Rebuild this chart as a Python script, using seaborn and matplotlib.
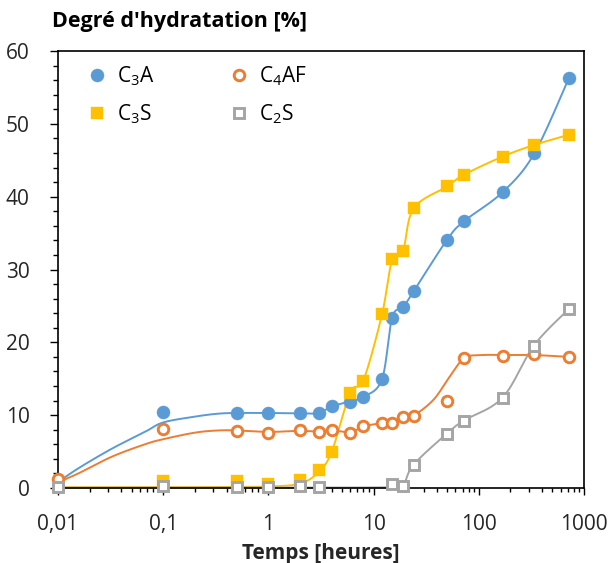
import numpy as np
import matplotlib
matplotlib.use('Agg')
import matplotlib.pyplot as plt
from matplotlib.ticker import FixedLocator, FixedFormatter, LogLocator, NullFormatter, MultipleLocator
from matplotlib.lines import Line2D
import seaborn as sns

# ---------------- data ----------------
# measured points
t_c3a = [0.1, 0.5, 1, 2, 3, 4, 6, 8, 12, 15, 19, 24, 50, 72, 168, 336, 720]
v_c3a = [10.4, 10.25, 10.25, 10.25, 10.3, 11.2, 11.85, 12.5, 14.9, 23.4, 24.8, 27.0, 34.1, 36.6, 40.6, 45.95, 56.35]

t_c4af = [0.01, 0.1, 0.5, 1, 2, 3, 4, 6, 8, 12, 15, 19, 24, 50, 72, 168, 336, 720]
v_c4af = [1.2, 8.1, 7.87, 7.6, 7.9, 7.7, 8.0, 7.6, 8.5, 8.9, 8.9, 9.8, 9.9, 12.0, 17.8, 18.1, 18.35, 17.95]

t_c3s = [0.1, 0.5, 1, 2, 3, 4, 6, 8, 12, 15, 19, 24, 50, 72, 168, 336, 720]
v_c3s = [0.9, 1.0, 0.6, 1.1, 2.5, 5.0, 13.1, 14.7, 23.9, 31.4, 32.5, 38.4, 41.4, 43.0, 45.5, 47.1, 48.4]

t_c2s = [0.01, 0.1, 0.5, 1, 2, 3, 15, 19, 24, 50, 72, 168, 336, 720]
v_c2s = [0.1, 0.3, 0.1, 0.1, 0.3, 0.1, 0.5, 0.3, 3.2, 7.4, 9.2, 12.4, 19.5, 24.6]

# model curves (smoothed lines)
tm_c3a = [0.01, 0.0156, 0.0325, 0.067, 0.1, 0.2, 0.33, 0.5, 1, 2, 3, 4, 6, 8, 12, 15, 19, 24, 50, 72, 168, 336, 720]
vm_c3a = [0.8, 2.7, 5.4, 7.7, 9.0, 9.8, 10.2, 10.3, 10.3, 10.25, 10.3, 11.2, 11.9, 12.5, 14.9, 23.4, 24.8, 27.0, 34.1, 36.6, 40.6, 45.9, 56.3]

tm_c4af = [0.01, 0.0156, 0.0325, 0.067, 0.1, 0.2, 0.33, 0.5, 1, 2, 3, 4, 6, 8, 12, 15, 19, 24, 37, 53, 72, 100, 168, 336, 720]
vm_c4af = [0.8, 2.0, 4.3, 6.0, 6.7, 7.6, 7.9, 7.9, 7.7, 7.85, 7.75, 7.95, 7.65, 8.45, 8.9, 8.95, 9.7, 9.95, 12.1, 15.3, 17.8, 18.25, 18.25, 18.25, 18.0]

tm_c3s = [0.01, 0.1, 0.5, 1, 2, 3, 4, 6, 8, 12, 15, 19, 24, 50, 72, 168, 336, 720]
vm_c3s = [0.1, 0.1, 0.15, 0.2, 0.6, 2.2, 5.0, 13.1, 14.8, 23.8, 31.3, 32.5, 38.4, 41.4, 43.0, 45.5, 47.1, 48.5]

tm_c2s = [0.01, 0.1, 0.5, 1, 2, 3, 15, 19, 24, 50, 72, 168, 336, 720]
vm_c2s = [0.05, 0.05, 0.05, 0.05, 0.05, 0.05, 0.1, 0.3, 3.2, 7.5, 9.25, 12.4, 19.6, 24.6]

labels = [r'C$_\mathregular{3}$A', r'C$_\mathregular{4}$AF', r'C$_\mathregular{3}$S', r'C$_\mathregular{2}$S']
colors = ['#5B9BD5', '#ED7D31', '#FFC000', '#A5A5A5']

xticks = [0.01, 0.1, 1, 10, 100, 1000]
xticklabels = ['0,01', '0,1', '1', '10', '100', '1000']
yticks = [0, 10, 20, 30, 40, 50, 60]
yticklabels = ['0', '10', '20', '30', '40', '50', '60']

title = "Degré d'hydratation [%]"
xlabel = 'Temps [heures]'

# ---------------- style ----------------
sns.set_theme(style='white')
plt.rcParams['font.family'] = ['Open Sans', 'DejaVu Sans']
plt.rcParams['mathtext.fontset'] = 'custom'
plt.rcParams['mathtext.rm'] = 'Open Sans'
plt.rcParams['mathtext.it'] = 'Open Sans'
plt.rcParams['text.color'] = 'black'


def smooth(t, y, n=40):
    """Excel-like smoothed line: Catmull-Rom Bezier in (log t, y)."""
    P = np.column_stack([np.log10(np.asarray(t, float)), np.asarray(y, float)])
    out = [P[0]]
    s = np.linspace(0, 1, n)[1:, None]
    for i in range(len(P) - 1):
        p0 = P[i - 1] if i > 0 else P[i]
        p1, p2 = P[i], P[i + 1]
        p3 = P[i + 2] if i + 2 < len(P) else P[i + 1]
        c1 = p1 + (p2 - p0) / 6.0
        c2 = p2 - (p3 - p1) / 6.0
        seg = (1 - s) ** 3 * p1 + 3 * (1 - s) ** 2 * s * c1 + 3 * (1 - s) * s ** 2 * c2 + s ** 3 * p2
        out.extend(seg)
    out = np.array(out)
    return 10 ** out[:, 0], out[:, 1]


W, H = 612, 563
fig = plt.figure(figsize=(W / 100, H / 100), dpi=100)
ax = fig.add_axes([58 / W, 1 - 488 / H, 526 / W, 437 / H])

models = [(tm_c3a, vm_c3a), (tm_c4af, vm_c4af), (tm_c3s, vm_c3s), (tm_c2s, vm_c2s)]
for (tm, vm), c in zip(models, colors):
    xs, ys = smooth(tm, vm)
    sns.lineplot(x=xs, y=ys, ax=ax, color=c, linewidth=1.4, sort=False,
                 estimator=None, legend=False, clip_on=False, zorder=2)

points = [(t_c3a, v_c3a), (t_c4af, v_c4af), (t_c3s, v_c3s), (t_c2s, v_c2s)]
mstyles = [
    dict(marker='o', markersize=9.4, markerfacecolor=colors[0], markeredgecolor=colors[0], markeredgewidth=0.3),
    dict(marker='o', markersize=7.6, markerfacecolor='white', markeredgecolor=colors[1], markeredgewidth=2.1),
    dict(marker='s', markersize=9.0, markerfacecolor=colors[2], markeredgecolor=colors[2], markeredgewidth=0.3),
    dict(marker='s', markersize=7.2, markerfacecolor='white', markeredgecolor=colors[3], markeredgewidth=2.1),
]
for k, ((t, v), ms) in enumerate(zip(points, mstyles)):
    sns.lineplot(x=t, y=v, ax=ax, linestyle='', sort=False, estimator=None,
                 legend=False, clip_on=False, zorder=3 + k, **ms)

ax.set_xscale('log')
ax.set_xlim(0.01, 1000)
ax.set_ylim(0, 60)
ax.xaxis.set_major_locator(FixedLocator(xticks))
ax.xaxis.set_major_formatter(FixedFormatter(xticklabels))
ax.xaxis.set_minor_locator(LogLocator(base=10, subs=np.arange(2, 10), numticks=20))
ax.xaxis.set_minor_formatter(NullFormatter())
ax.yaxis.set_major_locator(FixedLocator(yticks))
ax.yaxis.set_major_formatter(FixedFormatter(yticklabels))
ax.yaxis.set_minor_locator(MultipleLocator(2))

for sp in ax.spines.values():
    sp.set_visible(True)
    sp.set_color('black')
    sp.set_linewidth(1.2)

ax.tick_params(axis='x', which='major', direction='out', length=5, width=1, color='black',
               labelsize=15, pad=14, bottom=True)
ax.tick_params(axis='x', which='minor', direction='out', length=3.2, width=1, color='black', bottom=True)
ax.tick_params(axis='y', which='major', direction='out', length=6, width=1, color='black',
               labelsize=15, pad=14.5, left=True)
ax.tick_params(axis='y', which='minor', direction='out', length=3.6, width=1, color='black', left=True)

ax.set_xlabel(xlabel, fontsize=15, fontweight='bold')
ax.xaxis.set_label_coords(0.5, -0.125)
ax.set_ylabel('')
fig.text(52 / W, 1 - 22 / H, title, fontsize=15.5, fontweight='bold', ha='left', va='center')

handles = [Line2D([], [], linestyle='', **ms) for ms in mstyles]
order = [0, 2, 1, 3]
leg = ax.legend([handles[i] for i in order], [labels[i] for i in order], ncol=2,
                loc='upper left', bbox_to_anchor=(87 / W, 1 - 64 / H), bbox_transform=fig.transFigure,
                frameon=False, fontsize=15, handlelength=1.0, handletextpad=0.46,
                columnspacing=3.55, labelspacing=0.7, borderpad=0, borderaxespad=0)

fig.savefig('out.png', dpi=100)
